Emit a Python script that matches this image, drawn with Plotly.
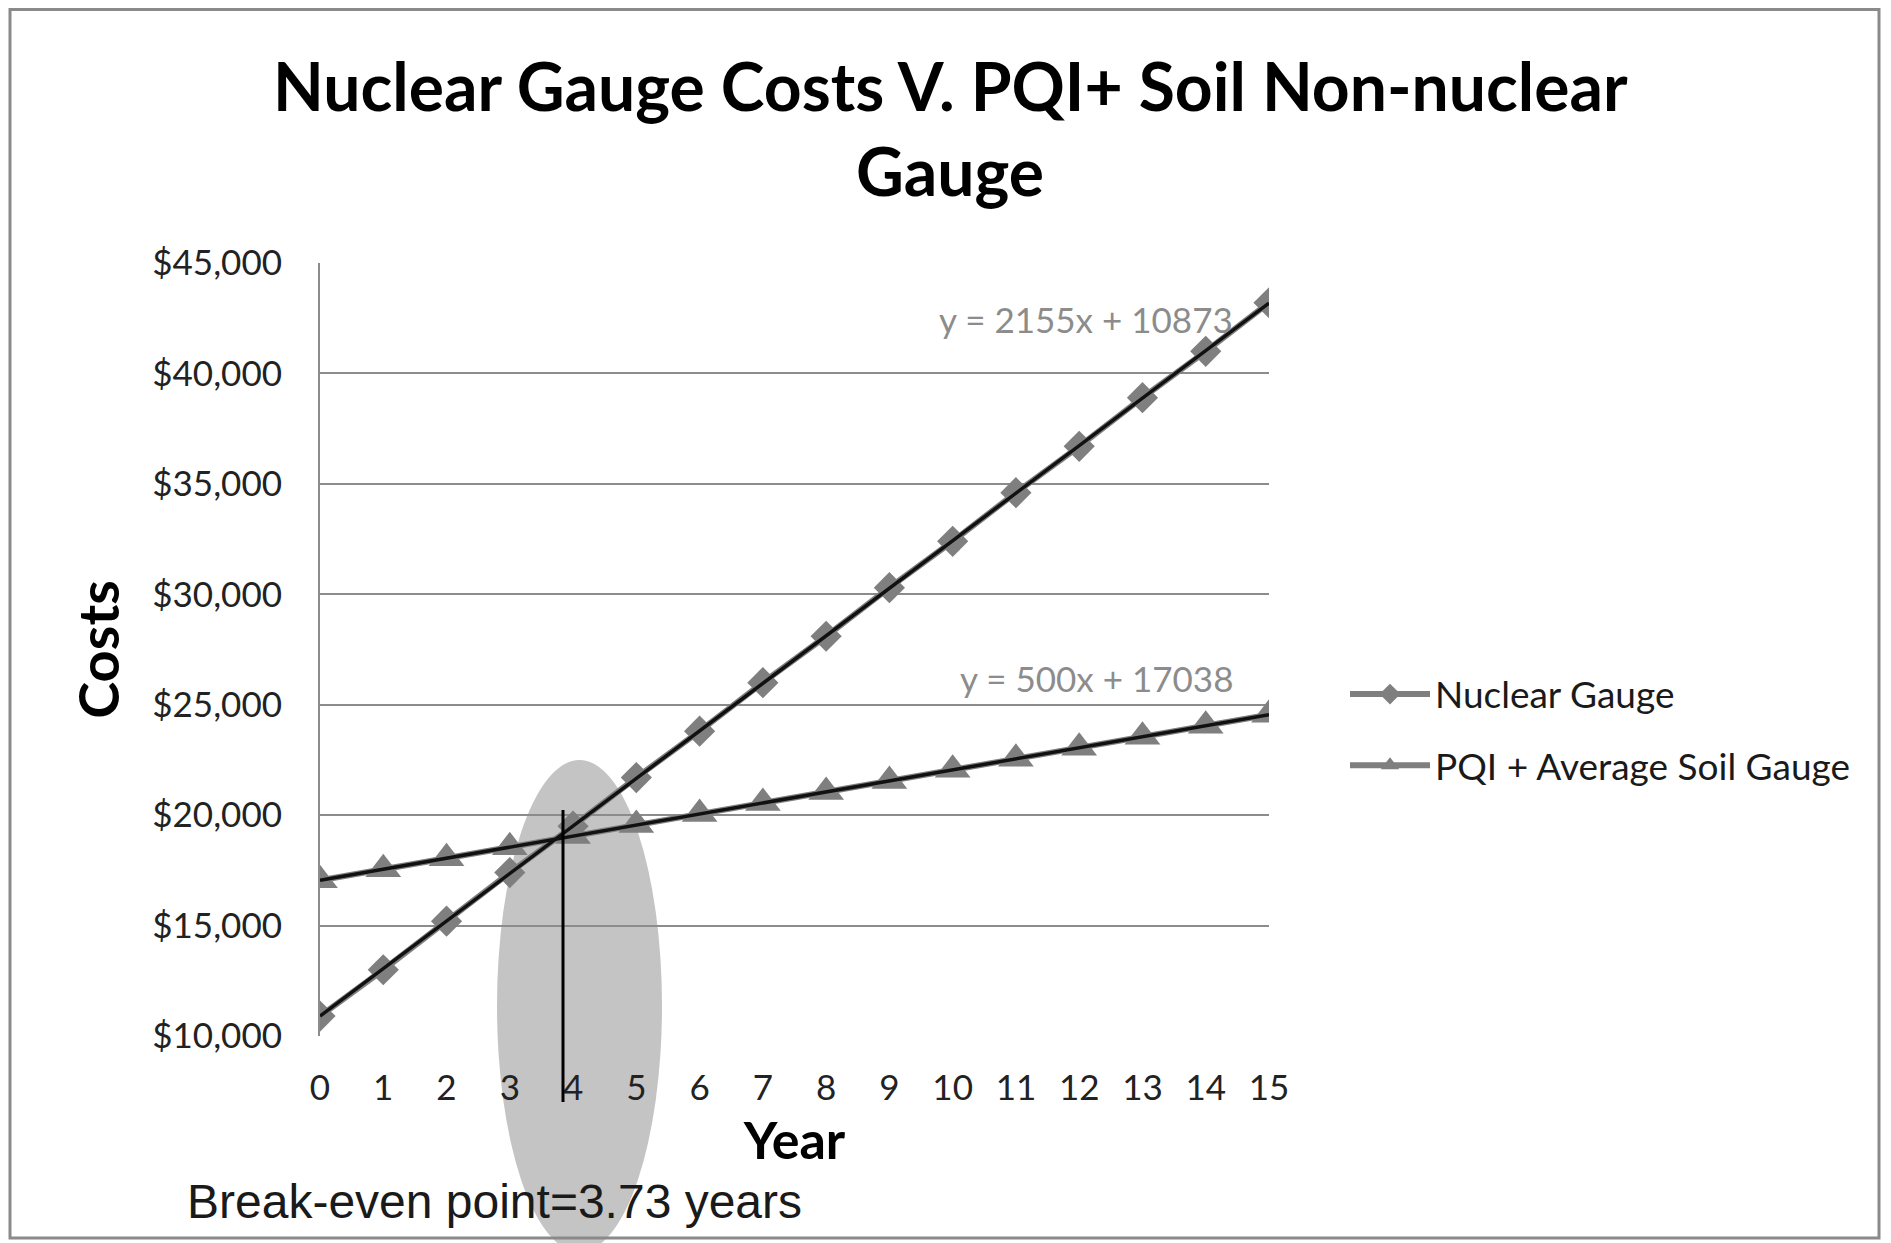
import numpy as np
import plotly.graph_objects as go

years = list(range(16))
nuclear_gauge = [10900, 13000, 15200, 17400, 19500, 21700, 23800, 26000,
                 28100, 30300, 32400, 34600, 36700, 38900, 41000, 43200]
pqi_soil = [17050, 17550, 18050, 18550, 19050, 19550, 20050, 20550,
            21050, 21550, 22050, 22550, 23050, 23550, 24050, 24550]
series_names = ["Nuclear Gauge", "PQI + Average Soil Gauge"]
eq_labels = ["y = 2155x + 10873", "y = 500x + 17038"]
y_ticks = [10000, 15000, 20000, 25000, 30000, 35000, 40000, 45000]
title_lines = ["Nuclear Gauge Costs V. PQI+ Soil Non-nuclear", "Gauge"]
break_even_text = "Break-even point=3.73 years"

# page body has an 8px margin: work in screen pixels, convert to figure pixels
OFF = 8
W, H = 1883, 1235
L, R, T, B = 320 - OFF, 1269 - OFF, 263 - OFF, 1036 - OFF
pw, ph = R - L, B - T


def px_x(p):  # screen px -> paper x
    return (p - OFF - L) / pw


def px_y(p):  # screen px -> paper y
    return (B - (p - OFF)) / ph


def data_x(p):  # screen px -> x data
    return (p - OFF - L) / pw * 15


def data_y(p):  # screen px -> y data
    return 10000 + (B - (p - OFF)) / ph * 35000


GREY = "#7f7f7f"
FONT = "Lato"

fig = go.Figure()

for vals, name, sym, sz in [(nuclear_gauge, series_names[0], "diamond", 24),
                            (pqi_soil, series_names[1], "triangle-up", 31)]:
    fig.add_trace(go.Scatter(
        x=years, y=vals, name=name, legendgroup=name, mode="lines+markers",
        line=dict(color=GREY, width=6),
        marker=dict(symbol=sym, size=sz, color=GREY),
    ))

# linear trendlines
for vals in [nuclear_gauge, pqi_soil]:
    m, c = np.polyfit(years, vals, 1)
    xs = [years[0], years[-1]]
    fig.add_trace(go.Scatter(
        x=xs, y=[m * xx + c for xx in xs], mode="lines",
        line=dict(color="#111111", width=3.5), showlegend=False, hoverinfo="skip",
    ))

shapes = [
    # break-even ellipse
    dict(type="circle", xref="x", yref="paper", x0=data_x(497), x1=data_x(662),
         y0=px_y(1252), y1=px_y(760), fillcolor="#c4c4c4",
         line=dict(width=0), layer="below"),
    # vertical break-even marker line
    dict(type="line", xref="x", yref="paper", x0=data_x(563), x1=data_x(563),
         y0=px_y(1102), y1=px_y(810), line=dict(color="#000000", width=3)),
    # chart border
    dict(type="rect", xref="paper", yref="paper", x0=px_x(10), x1=px_x(1879),
         y0=px_y(1238), y1=px_y(9.5), line=dict(color="#8a8a8a", width=3)),
]

annotations = [
    dict(text=title_lines[0], xref="paper", yref="paper", x=px_x(950), y=px_y(85),
         xanchor="center", yanchor="middle", showarrow=False,
         font=dict(family=FONT, size=66, color="#000000", weight="bold")),
    dict(text=title_lines[1], xref="paper", yref="paper", x=px_x(950), y=px_y(171),
         xanchor="center", yanchor="middle", showarrow=False,
         font=dict(family=FONT, size=66, color="#000000", weight="bold")),
    dict(text=eq_labels[0], xref="x", yref="y", x=data_x(1235), y=data_y(319),
         xanchor="right", yanchor="middle", showarrow=False,
         font=dict(family=FONT, size=35, color="#8c8c8c")),
    dict(text=eq_labels[1], xref="x", yref="y", x=data_x(1235), y=data_y(678),
         xanchor="right", yanchor="middle", showarrow=False,
         font=dict(family=FONT, size=35, color="#8c8c8c")),
    dict(text=break_even_text, xref="paper", yref="paper", x=px_x(185), y=px_y(1201),
         xanchor="left", yanchor="middle", showarrow=False,
         font=dict(family="Liberation Sans", size=48, color="#1a1a1a")),
]

fig.update_layout(
    width=W, height=H,
    margin=dict(l=L, r=W - R, t=T, b=H - B, pad=0),
    paper_bgcolor="white", plot_bgcolor="rgba(0,0,0,0)",
    showlegend=True,
    legend=dict(x=px_x(1345), y=px_y(730), xanchor="left", yanchor="middle",
                font=dict(family=FONT, size=37, color="#1a1a1a"),
                traceorder="grouped", tracegroupgap=20, itemwidth=80,
                bgcolor="rgba(0,0,0,0)"),
    shapes=shapes,
    annotations=annotations,
    xaxis=dict(range=[0, 15], tickmode="array", tickvals=years,
               ticktext=[str(y) for y in years],
               showgrid=False, zeroline=False, showline=False,
               ticks="", ticklabelstandoff=28,
               tickfont=dict(family=FONT, size=35, color="#222222"),
               title=dict(text="Year", standoff=16,
                          font=dict(family=FONT, size=52, color="#000000", weight="bold"))),
    yaxis=dict(range=[10000, 45000], tickmode="array", tickvals=y_ticks,
               tickformat="$,.0f",
               showgrid=True, gridcolor="#8c8c8c", gridwidth=2,
               zeroline=False, showline=True, linecolor="#8c8c8c", linewidth=2,
               ticks="", ticklabelstandoff=29,
               tickfont=dict(family=FONT, size=35, color="#222222"),
               title=dict(text="Costs", standoff=15,
                          font=dict(family=FONT, size=56, color="#000000", weight="bold"))),
    hovermode=False,
)

fig.write_html("out.html")
